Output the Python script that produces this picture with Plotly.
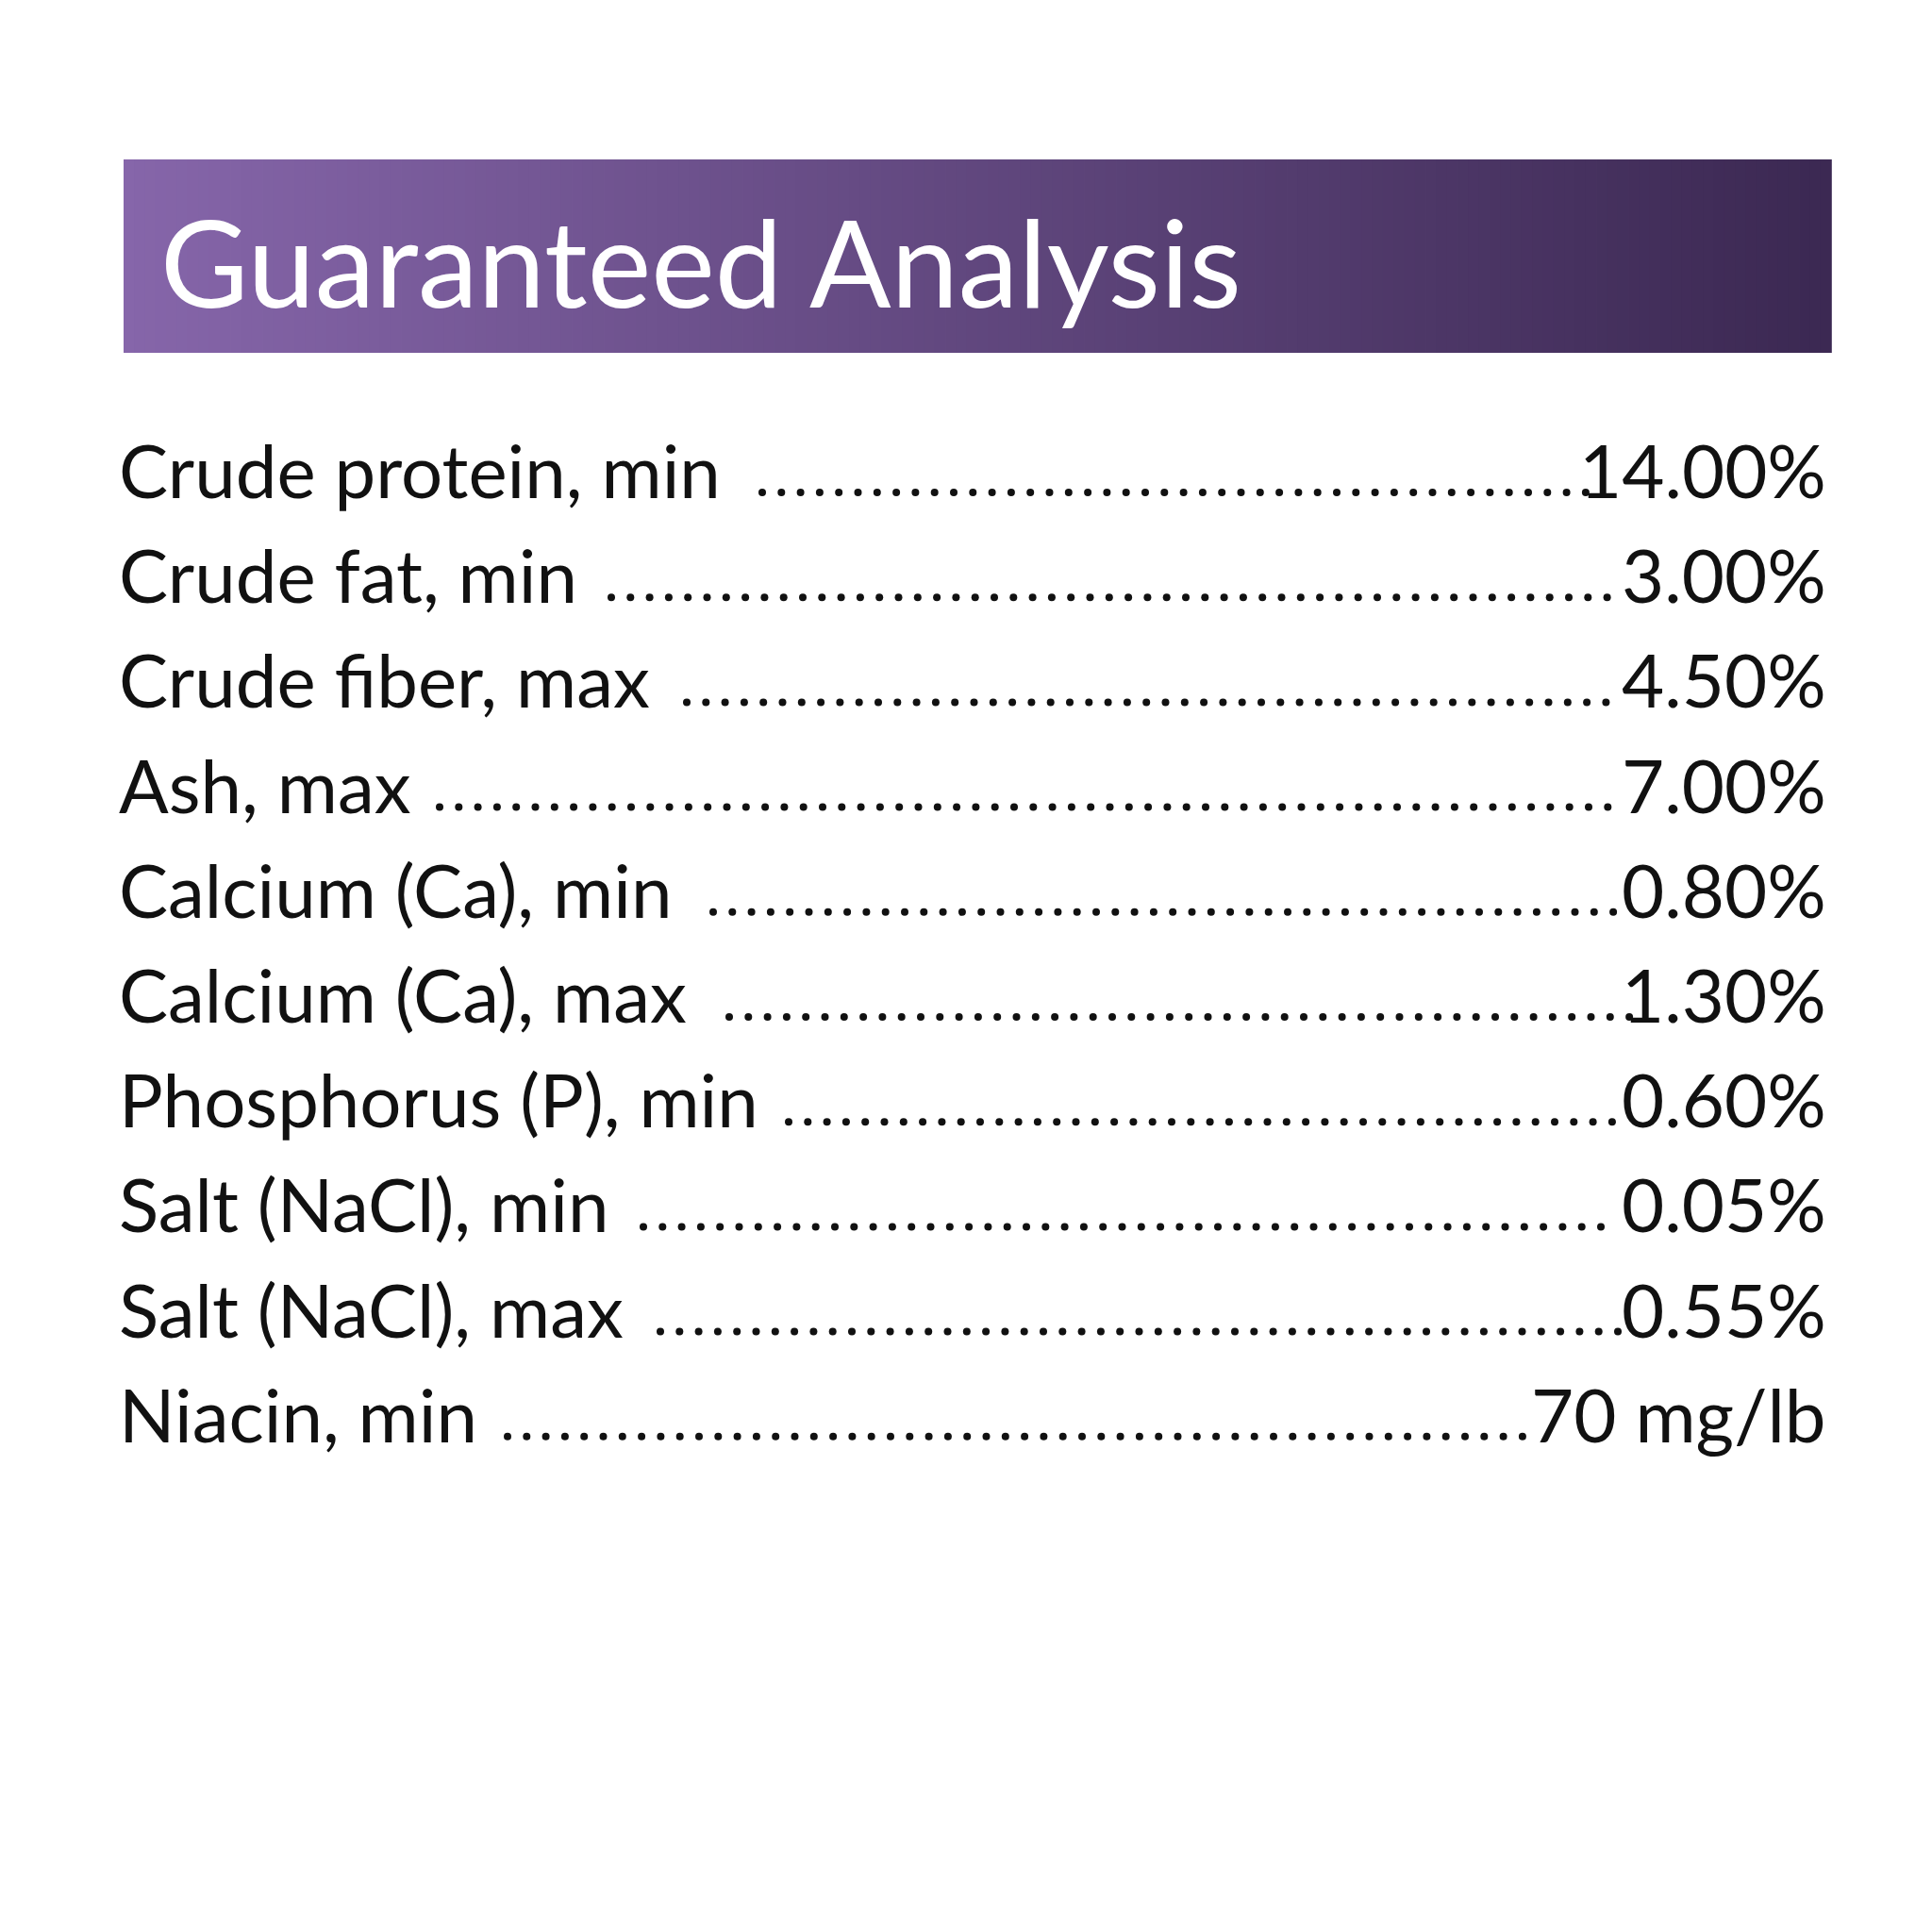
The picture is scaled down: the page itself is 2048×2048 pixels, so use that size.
import plotly.graph_objects as go
import numpy as np

title = "Guaranteed Analysis"
labels = ["Crude protein, min", "Crude fat, min", "Crude fiber, max", "Ash, max",
          "Calcium (Ca), min", "Calcium (Ca), max", "Phosphorus (P), min",
          "Salt (NaCl), min", "Salt (NaCl), max", "Niacin, min"]
values = ["14.00%", "3.00%", "4.50%", "7.00%", "0.80%", "1.30%", "0.60%",
          "0.05%", "0.55%", "70 mg/lb"]
# leader-dot extents (in page pixels)
dot_start = [800, 640, 720, 458, 748, 765, 828, 674, 692, 530]
dot_end = [1680, 1708, 1712, 1706, 1706, 1724, 1706, 1708, 1718, 1620]

W = 2048
fig = go.Figure()

# gradient header band from thin strips
c0, c1 = np.array([0x86, 0x66, 0xAA]), np.array([0x3C, 0x29, 0x53])
n = 160
edges = np.linspace(123, 1933, n + 1)
for k in range(n):
    t = k / (n - 1)
    c = (c0 + (c1 - c0) * t).astype(int)
    fig.add_shape(type="rect", x0=edges[k], x1=edges[k + 1] + 0.8, y0=161, y1=366,
                  line_width=0, fillcolor=f"rgb({c[0]},{c[1]},{c[2]})", layer="below")
fig.add_annotation(x=160, y=268, text=title, xanchor="left", yanchor="middle",
                   showarrow=False, font=dict(family="Lato", size=128, color="white"))

font = dict(family="Lato", size=78, color="#111111")
y0, dy = 490, 111.2
for i, (lab, val) in enumerate(zip(labels, values)):
    y = y0 + i * dy
    fig.add_annotation(x=1930, y=y, text=val, xanchor="right", yanchor="middle",
                       showarrow=False, font=font)
    fig.add_annotation(x=116, y=y, text=lab, xanchor="left", yanchor="middle",
                       showarrow=False, font=font)
    nd = int((dot_end[i] - dot_start[i]) // 20.3) + 1
    xs = np.linspace(dot_start[i], dot_start[i] + (nd - 1) * 20.3, nd)
    fig.add_trace(go.Scatter(x=xs, y=[y + 24] * nd, mode="markers",
                             marker=dict(size=8, color="#111111"),
                             hoverinfo="skip", showlegend=False))

fig.update_layout(width=W, height=W, margin=dict(l=0, r=0, t=0, b=0),
                  paper_bgcolor="white", plot_bgcolor="white", showlegend=False,
                  xaxis=dict(range=[0, W], visible=False, fixedrange=True),
                  yaxis=dict(range=[W, 0], visible=False, fixedrange=True))
fig.write_html("out.html")
